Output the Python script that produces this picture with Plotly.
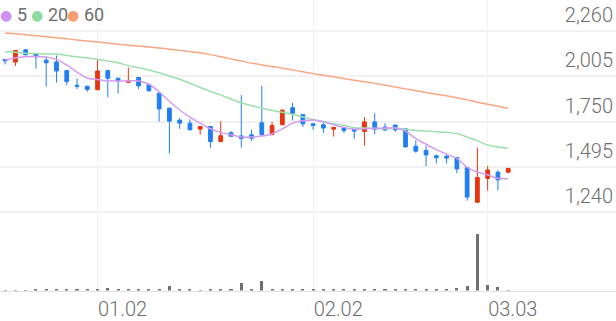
import plotly.graph_objects as go

DATES = [
    "2025-12-17", "2025-12-18", "2025-12-19", "2025-12-22", "2025-12-23", "2025-12-24",
    "2025-12-26", "2025-12-29", "2025-12-30", "2026-01-02", "2026-01-05", "2026-01-06",
    "2026-01-07", "2026-01-08", "2026-01-09", "2026-01-12", "2026-01-13", "2026-01-14",
    "2026-01-15", "2026-01-16", "2026-01-19", "2026-01-20", "2026-01-21", "2026-01-22",
    "2026-01-23", "2026-01-26", "2026-01-27", "2026-01-28", "2026-01-29", "2026-01-30",
    "2026-02-02", "2026-02-03", "2026-02-04", "2026-02-05", "2026-02-06", "2026-02-09",
    "2026-02-10", "2026-02-11", "2026-02-12", "2026-02-13", "2026-02-19", "2026-02-20",
    "2026-02-23", "2026-02-24", "2026-02-25", "2026-02-26", "2026-02-27", "2026-03-03",
    "2026-03-04", "2026-03-05",
]

OPEN = [2101, 2086, 2155, 2134, 2097, 2086, 2038, 1955, 1950, 1930,
        2038, 1995, 1972, 1999, 1958, 1911, 1826, 1759, 1742, 1708,
        1723, 1638, 1688, 1670, 1676, 1744, 1677, 1733, 1829, 1790,
        1738, 1733, 1708, 1714, 1708, 1695, 1749, 1720, 1731, 1710,
        1612, 1588, 1558, 1556, 1548, 1491, 1296, 1430, 1465, 1465]
HIGH = [2101, 2153, 2158, 2136, 2120, 2123, 2040, 1993, 1952, 2097,
        2040, 1997, 2056, 2001, 1965, 1913, 1830, 1770, 1764, 1725,
        1725, 1753, 1697, 1900, 1705, 1952, 1749, 1818, 1857, 1792,
        1740, 1744, 1720, 1718, 1710, 1776, 1798, 1742, 1733, 1712,
        1645, 1615, 1565, 1565, 1550, 1493, 1604, 1500, 1478, 1487]
LOW = [2073, 2064, 2125, 2049, 1948, 1971, 1956, 1934, 1919, 1928,
       1887, 1909, 1970, 1934, 1921, 1751, 1571, 1710, 1700, 1677,
       1603, 1636, 1666, 1605, 1642, 1674, 1675, 1730, 1757, 1720,
       1705, 1686, 1666, 1686, 1653, 1615, 1679, 1700, 1692, 1605,
       1575, 1500, 1515, 1515, 1459, 1305, 1294, 1361, 1363, 1465]
CLOSE = [2092, 2151, 2127, 2116, 2082, 2036, 1976, 1950, 1932, 2036,
         1995, 1980, 1978, 1952, 1924, 1822, 1753, 1742, 1705, 1723,
         1638, 1671, 1668, 1656, 1657, 1677, 1729, 1815, 1798, 1738,
         1729, 1714, 1718, 1701, 1697, 1749, 1708, 1703, 1705, 1608,
         1584, 1563, 1547, 1545, 1484, 1325, 1435, 1478, 1422, 1487]

MA5 = [2095, 2110, 2116, 2118, 2114, 2101, 2069, 2030, 1995, 1988,
       1980, 1980, 1980, 1980, 1961, 1919, 1865, 1816, 1776, 1742,
       1710, 1690, 1677, 1664, 1664, 1669, 1681, 1710, 1742, 1755,
       1760, 1750, 1733, 1718, 1708, 1710, 1713, 1714, 1715, 1697,
       1655, 1623, 1593, 1567, 1543, 1493, 1466, 1451, 1430, 1429]
MA20 = [2144, 2142, 2136, 2134, 2132, 2131, 2123, 2116, 2110, 2101,
        2092, 2082, 2066, 2054, 2041, 2026, 2008, 1989, 1967, 1943,
        1921, 1900, 1878, 1857, 1841, 1826, 1813, 1803, 1790, 1776,
        1762, 1751, 1738, 1729, 1716, 1714, 1712, 1711, 1714, 1707,
        1701, 1697, 1694, 1690, 1683, 1664, 1642, 1619, 1608, 1599]
MA60 = [2250, 2245, 2240, 2235, 2229, 2223, 2217, 2211, 2205, 2199,
        2193, 2187, 2181, 2176, 2171, 2165, 2159, 2152, 2145, 2138,
        2128, 2116, 2104, 2092, 2080, 2070, 2061, 2052, 2042, 2031,
        2021, 2012, 2003, 1993, 1984, 1975, 1966, 1956, 1946, 1935,
        1925, 1914, 1905, 1896, 1885, 1873, 1860, 1848, 1837, 1826]

VOLUME = [6000, 6000, 5000, 8000, 13000, 7000, 7000, 7000, 7000, 10000,
          23000, 8000, 8000, 7000, 7000, 13000, 50000, 8000, 7000, 6000,
          7000, 7000, 8000, 73000, 8000, 100000, 8000, 18000, 18000, 10000,
          8000, 7000, 13000, 8000, 7000, 18000, 8000, 8000, 8000, 13000,
          8000, 13000, 8000, 8000, 23000, 50000, 576000, 57000, 40000, 2000]

Y_TICKS = [1240, 1495, 1750, 2005, 2260]
X_TICKS = ["2026-01-02", "2026-02-02", "2026-03-03"]
X_TICK_TEXT = ["01.02", "02.02", "03.03"]
MA_NAMES = ["5", "20", "60"]

RED = "#e8350f"
BLUE = "#1f7ff0"
MA_COLORS = ["#d49bf3", "#9ddfab", "#fba683"]
DOT_COLORS = ["#cf90f2", "#8fdb9f", "#f89d72"]
TEXT = "#6e6e6e"
GRID = "#f1f1f1"

fig = go.Figure()

for vals, col in zip([MA60, MA20, MA5], [MA_COLORS[2], MA_COLORS[1], MA_COLORS[0]]):
    fig.add_trace(go.Scatter(x=DATES, y=vals, mode="lines",
                             line=dict(color=col, width=1.5, shape="spline", smoothing=0.6),
                             showlegend=False, hoverinfo="skip"))

fig.add_trace(go.Candlestick(
    x=DATES, open=OPEN, high=HIGH, low=LOW, close=CLOSE,
    increasing=dict(line=dict(color=RED, width=1), fillcolor=RED),
    decreasing=dict(line=dict(color=BLUE, width=1), fillcolor=BLUE),
    whiskerwidth=0, showlegend=False,
))

fig.add_trace(go.Bar(x=DATES, y=VOLUME, yaxis="y2", marker=dict(color="#707070", line=dict(width=0)),
                     width=0.3, showlegend=False))

annotations = []
dot_x = [5.5, 36.7, 73]
text_x = [15, 46, 82]
for name, col, dx, tx in zip(MA_NAMES, DOT_COLORS, dot_x, text_x):
    annotations.append(dict(
        xref="paper", yref="paper", x=dx / 616, y=1 - 15.5 / 321, xanchor="center", yanchor="middle",
        text="●", showarrow=False,
        font=dict(family="DejaVu Sans", size=14, color=col),
    ))
    annotations.append(dict(
        xref="paper", yref="paper", x=tx / 616, y=1 - 15 / 321, xanchor="left", yanchor="middle",
        text=name, showarrow=False,
        font=dict(family="Roboto", size=18, color=TEXT),
    ))

fig.update_layout(
    width=616, height=321,
    margin=dict(l=0, r=0, t=0, b=0),
    paper_bgcolor="white", plot_bgcolor="white",
    showlegend=False,
    boxgap=0.48,
    bargap=0,
    font=dict(family="Roboto", color=TEXT),
    annotations=annotations,
    xaxis=dict(
        type="category", range=[-0.5, 59.5], anchor="y2",
        rangeslider=dict(visible=False),
        tickvals=X_TICKS, ticktext=X_TICK_TEXT, ticks="",
        ticklabelposition="outside right",
        tickfont=dict(family="Roboto", size=20, color=TEXT, weight=300),
        showgrid=True, gridcolor=GRID, gridwidth=1,
        showline=True, linecolor="#e2e2e2", linewidth=1,
        zeroline=False, fixedrange=True,
    ),
    yaxis=dict(
        domain=[0.0863, 1], range=[798.4, 2435.9], side="right",
        tickvals=Y_TICKS, tickformat=",", ticks="",
        ticklabelposition="inside", ticklabelshift=-16, ticklabelstandoff=0,
        tickfont=dict(family="Roboto", size=20, color=TEXT, weight=300),
        showgrid=True, gridcolor=GRID, gridwidth=1.5,
        zeroline=False, showline=False, fixedrange=True,
    ),
    yaxis2=dict(
        domain=[0.0863, 0.299], range=[0, 684000],
        showgrid=False, showticklabels=False, zeroline=False, fixedrange=True,
    ),
)

fig.write_html("out.html")
